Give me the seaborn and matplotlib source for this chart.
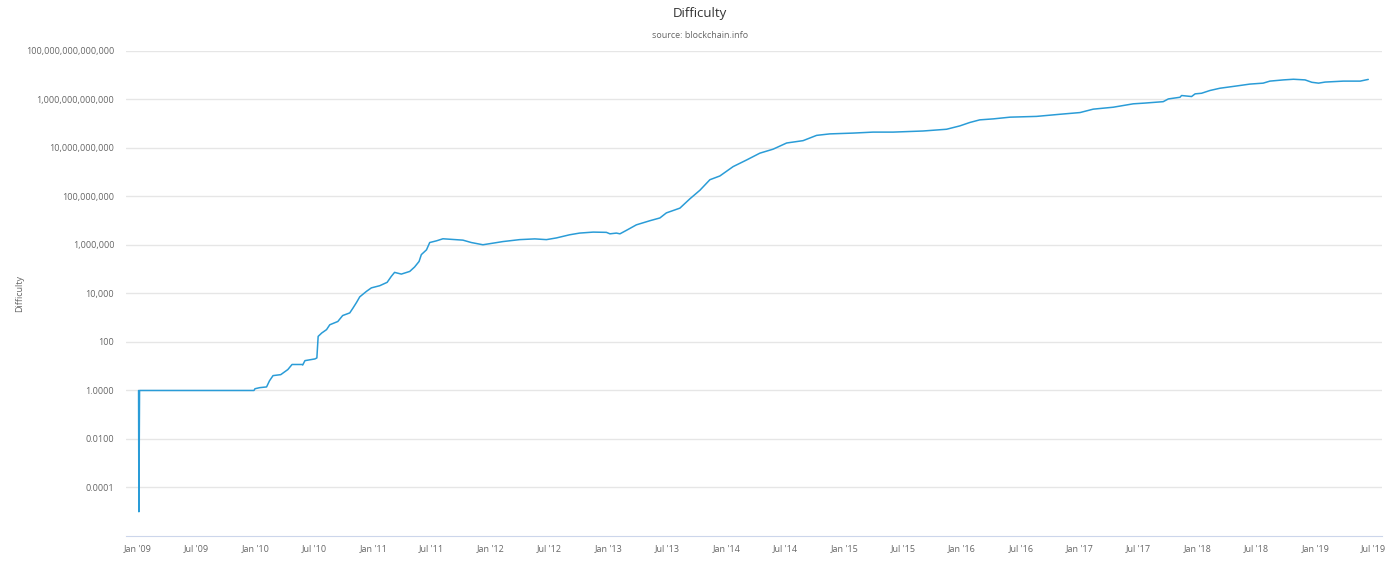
import matplotlib
matplotlib.use("Agg")
import matplotlib.pyplot as plt
import matplotlib.dates as mdates
from matplotlib.ticker import FixedLocator, FuncFormatter
import seaborn as sns
import pandas as pd

# values (date, difficulty)
dates = [
    "2009-01-03", "2009-01-04", "2009-01-06", "2009-12-27", "2009-12-30",
    "2010-01-14", "2010-02-04", "2010-02-13", "2010-02-24", "2010-03-20",
    "2010-04-11", "2010-04-24", "2010-05-25", "2010-05-27", "2010-06-03",
    "2010-07-04", "2010-07-10", "2010-07-14", "2010-07-25", "2010-08-09",
    "2010-08-19", "2010-09-13", "2010-09-28", "2010-10-20", "2010-10-30",
    "2010-11-10", "2010-11-20", "2010-12-11", "2010-12-26", "2011-01-21",
    "2011-02-13", "2011-02-26", "2011-03-08", "2011-03-29", "2011-04-24",
    "2011-05-09", "2011-05-23", "2011-05-30", "2011-06-15", "2011-06-25",
    "2011-07-16", "2011-08-05", "2011-10-06", "2011-11-01", "2011-12-07",
    "2012-01-18", "2012-02-07", "2012-03-30", "2012-05-16", "2012-06-21",
    "2012-07-22", "2012-09-01", "2012-10-02", "2012-11-13", "2012-12-24",
    "2013-01-04", "2013-01-24", "2013-02-04", "2013-02-24", "2013-03-27",
    "2013-05-08", "2013-06-08", "2013-06-28", "2013-08-09", "2013-09-09",
    "2013-10-10", "2013-11-10", "2013-12-11", "2014-01-21", "2014-03-04",
    "2014-04-14", "2014-05-25", "2014-07-06", "2014-08-26", "2014-10-07",
    "2014-11-17", "2015-01-28", "2015-03-31", "2015-06-01", "2015-09-02",
    "2015-11-14", "2015-12-25", "2016-01-25", "2016-02-25", "2016-04-07",
    "2016-05-29", "2016-08-19", "2016-10-31", "2017-01-01", "2017-02-11",
    "2017-04-14", "2017-06-15", "2017-07-21", "2017-09-16", "2017-10-02",
    "2017-11-07", "2017-11-12", "2017-12-13", "2017-12-24", "2018-01-13",
    "2018-02-08", "2018-03-11", "2018-05-02", "2018-06-12", "2018-07-23",
    "2018-08-13", "2018-09-24", "2018-10-25", "2018-11-30", "2018-12-21",
    "2019-01-11", "2019-01-31", "2019-03-29", "2019-05-20", "2019-06-14",
]
difficulty = [
    1.0, 1e-5, 1.0, 1.0, 1.18,
    1.31, 1.4, 2.5, 4.1, 4.5,
    7.3, 11.8, 11.8, 11.2, 17,
    20, 22, 170, 234, 323,
    512, 700, 1230, 1580, 2500,
    4270, 7250, 12300, 17000, 20900,
    28800, 51000, 74000, 63000, 81000,
    123000, 209000, 400000, 630000, 1260000,
    1480000, 1800000, 1580000, 1260000, 1020000,
    1250000, 1380000, 1660000, 1780000, 1660000,
    1950000, 2630000, 3090000, 3390000, 3310000,
    2880000, 3090000, 2880000, 4000000, 6760000,
    10000000, 13000000, 21000000, 33000000, 80000000,
    180000000, 490000000, 700000000, 1.7e9, 3.2e9,
    6.1e9, 8.9e9, 1.6e10, 2.0e10, 3.3e10,
    3.8e10, 4.1e10, 4.5e10, 4.5e10, 5.0e10,
    5.9e10, 8.1e10, 1.12e11, 1.44e11, 1.58e11,
    1.86e11, 2.0e11, 2.45e11, 2.88e11, 3.98e11,
    4.78e11, 6.6e11, 7.08e11, 8.1e11, 1.05e12,
    1.23e12, 1.45e12, 1.32e12, 1.7e12, 1.8e12,
    2.34e12, 2.9e12, 3.6e12, 4.3e12, 4.7e12,
    5.7e12, 6.4e12, 6.8e12, 6.4e12, 5.1e12,
    4.7e12, 5.2e12, 5.7e12, 5.7e12, 6.7e12,
]
y_ticks = [1e-4, 1e-2, 1, 1e2, 1e4, 1e6, 1e8, 1e10, 1e12, 1e14]

df = pd.DataFrame({"date": pd.to_datetime(dates), "difficulty": difficulty})

sns.set_style("white")
plt.rcParams["font.family"] = ["Open Sans", "DejaVu Sans"]

fig = plt.figure(figsize=(14, 5.66), dpi=100)
ax = fig.add_axes([0.09, 0.053, 0.897, 0.857])

sns.lineplot(data=df, x="date", y="difficulty", ax=ax, color="#2a9cd7", linewidth=1.1)

ax.set_yscale("log")
ax.set_ylim(1e-6, 1e14)
ax.yaxis.set_major_locator(FixedLocator(y_ticks))
ax.yaxis.set_minor_locator(FixedLocator([]))
ax.yaxis.set_major_formatter(FuncFormatter(
    lambda v, p: f"{v:,.0f}" if v >= 100 else f"{v:.4f}"))
ax.grid(axis="y", color="#e6e6e6", linewidth=1)
ax.tick_params(axis="y", length=0, pad=8.5, labelsize=6.5, labelcolor="#666666")

ax.set_xlim(pd.Timestamp("2008-11-25"), pd.Timestamp("2019-07-26"))
ax.xaxis.set_major_locator(mdates.MonthLocator(bymonth=[1, 7]))
ax.xaxis.set_major_formatter(mdates.DateFormatter("%b '%y"))
ax.tick_params(axis="x", length=4, width=1, color="#ccd6eb", pad=1.5,
               labelsize=6.5, labelcolor="#666666")

for s in ["top", "right", "left"]:
    ax.spines[s].set_visible(False)
ax.spines["bottom"].set_color("#ccd6eb")

ax.set_xlabel("")
ax.set_ylabel("Difficulty", fontsize=6.5, color="#666666")
ax.yaxis.set_label_coords(-0.081, 0.5)

fig.text(0.5, 0.977, "Difficulty", ha="center", va="center", fontsize=9.5, color="#333333")
fig.text(0.5, 0.938, "source: blockchain.info", ha="center", va="center",
         fontsize=6.5, color="#666666")

fig.savefig("out.png", dpi=100)
